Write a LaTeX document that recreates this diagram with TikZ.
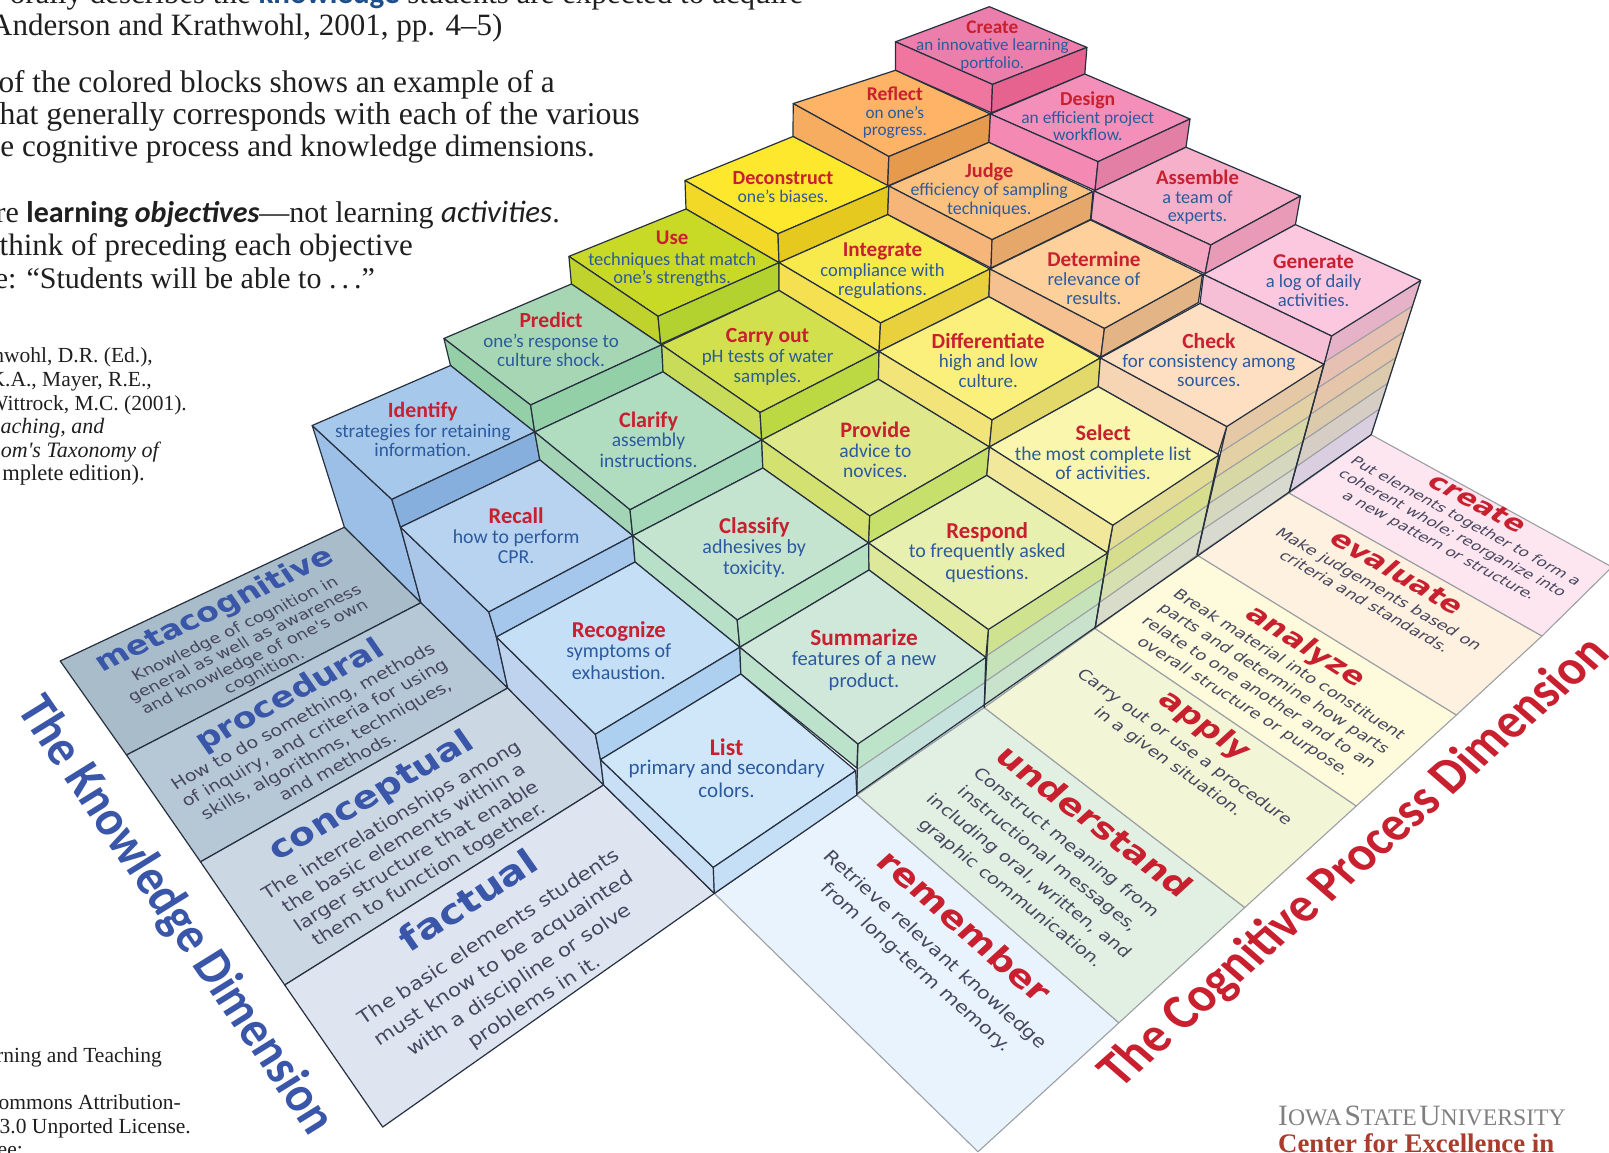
\documentclass[tikz,border=0pt]{standalone}
\usepackage{fontspec}
\usetikzlibrary{calc}
\setmainfont{Carlito}
\newfontfamily\ser{Liberation Serif}
\newfontfamily\dv{DejaVu Sans}
\newfontfamily\car{Carlito}
\definecolor{rd}{HTML}{C8202F}
\definecolor{blu}{HTML}{2C5A9E}
\definecolor{ttl}{HTML}{3A56A8}
\definecolor{bod}{HTML}{47475F}
\definecolor{ink}{HTML}{27303F}
\definecolor{grayline}{HTML}{9C9FA3}
\definecolor{kblue}{HTML}{1F4E8C}
\tikzset{edge/.style={draw=ink,line width=1.2pt,line join=round},
 floorR/.style={draw=grayline,line width=1.1pt,line join=round},
 strip/.style={draw=grayline,line width=1pt,line join=round},
 serline/.style={anchor=base east,inner sep=0pt,text=black!88}}
\newcommand{\face}[2]{\definecolor{fc}{HTML}{#1}\filldraw[edge,fill=fc] #2 -- cycle;}
\newcommand{\rface}[2]{\definecolor{fc}{HTML}{#1}\filldraw[floorR,fill=fc] #2 -- cycle;}
% one column of strips: colour list, n, B, floorB, R, floorR
\newcommand{\strips}[6]{%
 \foreach \t/\col in {#1}{
  \pgfmathsetmacro{\a}{\t/#2}\pgfmathsetmacro{\b}{(\t+1)/#2}
  \definecolor{fc}{HTML}{\col}
  \filldraw[strip,fill=fc] ($#3!\a!#4$)--($#5!\a!#6$)--($#5!\b!#6$)--($#3!\b!#4$)--cycle;}}
% block caption: x y1 y2 y3 size title l1 l2 (main-image units)
\newcommand{\bt}[8]{%
 \node[inner sep=0pt,text=rd,font={\fontsize{\fpeval{#5*1.135}}{10}\selectfont\bfseries}] at ({#1*1.0262},{(#2+1.5)*1.0262}) {\vphantom{Ay}#6};
 \node[inner sep=0pt,text=blu,font={\fontsize{#5}{10}\selectfont}] at ({#1*1.0262},{(#3+1.5)*1.0262}) {\vphantom{Ay}#7};
 \node[inner sep=0pt,text=blu,font={\fontsize{#5}{10}\selectfont}] at ({#1*1.0262},{(#4+1.5)*1.0262}) {\vphantom{Ay}#8};}
% skewed text: x y angle vx vy size lead style text
\newcommand{\sk}[9]{%
 \pgfmathsetmacro{\ca}{cos(#3)}\pgfmathsetmacro{\sa}{sin(#3)}%
 \node[transform shape,inner sep=0pt,align=center,shift={(#1,#2)},cm={\ca,\sa,#4,#5,(0,0)},font={\fontsize{#6}{#7}\selectfont #8}] at (0,0) {#9};}
\begin{document}
\begin{tikzpicture}[x=1pt,y=-1pt]
\useasboundingbox (0,0) rectangle (1609,1153);
\clip (0,0) rectangle (1609,1153);
\fill[white] (0,0) rectangle (1609,1153);
% ---------- left text
\node[serline,font={\fontsize{31}{32}\ser}] at (803.5,4) {orally describes the {\car\bfseries\color{kblue}knowledge} students are expected to acquire};
\node[serline,font={\fontsize{31}{32}\ser}] at (502.6,36) {Anderson and Krathwohl, 2001, pp. 4–5)};
\node[serline,font={\fontsize{31.3}{32}\ser}] at (555,92.5) {of the colored blocks shows an example of a};
\node[serline,font={\fontsize{31.8}{32}\ser}] at (640,125) {hat generally corresponds with each of the various};
\node[serline,font={\fontsize{31.2}{32}\ser}] at (595,157) {e cognitive process and knowledge dimensions.};
\node[serline,font={\fontsize{30}{32}\ser}] at (560,222.7) {re {\fontsize{30}{32}\car\bfseries learning {\itshape objectives}}—not learning {\car\fontsize{31}{32}\selectfont\itshape activities}.};
\node[serline,font={\fontsize{31}{32}\ser}] at (413,255) {think of preceding each objective};
\node[serline,font={\fontsize{30}{32}\ser}] at (375,288) {e: “Students will be able to .\,.\,.”};
\node[serline,font={\fontsize{21.5}{22}\ser}] at (153,362.6) {hwohl, D.R. (Ed.),};
\node[serline,font={\fontsize{21.5}{22}\ser}] at (152,386.6) {K.A., Mayer, R.E.,};
\node[serline,font={\fontsize{21.5}{22}\ser}] at (187,410) {Wittrock, M.C. (2001).};
\node[serline,font={\fontsize{22}{22}\ser\itshape}] at (104.6,433) {aching, and};
\node[serline,font={\fontsize{22}{22}\ser\itshape}] at (159,457) {om's Taxonomy of};
\node[serline,font={\fontsize{22.5}{22}\ser}] at (145,480) {mplete edition).};
\node[serline,font={\fontsize{21.5}{22}\ser}] at (162,1062.6) {rning and Teaching};
\node[serline,font={\fontsize{21.5}{22}\ser}] at (181,1109) {ommons Attribution-};
\node[serline,font={\fontsize{21.5}{22}\ser}] at (191,1133) {3.0 Unported License.};
\node[serline,font={\fontsize{21.5}{22}\ser}] at (23,1156) {ee:};
% ---------- floor, knowledge side
\face{A9BCC9}{(60.2,661)--(344.4,527.2)--(421,602.7)--(126.5,755)}
\face{B6C8D6}{(126.5,755)--(421,602.7)--(507.7,688)--(200.5,861.8)}
\face{CBD7E3}{(200.5,861.8)--(507.7,688)--(603.6,785)--(284.7,985)}
\face{DEE5F1}{(284.7,985)--(603.6,785)--(714.3,893.4)--(382.7,1127)}
% ---------- floor, cognitive side
\rface{E8F3FD}{(714.3,893.4)--(856.8,795)--(1118.9,1022.8)--(978,1151.8)}
\rface{E2F0E3}{(856.8,795)--(984.2,707.5)--(1244.8,907.5)--(1118.9,1022.8)}
\rface{F2F6D6}{(984.2,707.5)--(1095,628.4)--(1356.3,806)--(1244.8,907.5)}
\rface{FEFBDC}{(1095,628.4)--(1197,555)--(1456.4,715)--(1356.3,806)}
\rface{FEF1E0}{(1197,555)--(1289,493)--(1542,636)--(1456.4,715)}
\rface{FDE6F0}{(1289,493)--(1371.2,434.7)--(1612,567)--(1542,636)}
% ---------- right-hand strips
\strips{0/E5B2C8,1/E7C0B4,2/E5C6AA,3/DCCAAC,4/D6CDC4,5/D9CFE0}{6}{(1331.5,336)}{(1289,493)}{(1420.7,280.4)}{(1371.2,434.7)}
\strips{0/E5C8A5,1/E3D0A5,2/D8D8A5,3/D5D8BF,4/D8DAD0}{5}{(1226.7,426.6)}{(1197,555)}{(1324,364.4)}{(1289,493)}
\strips{0/E2DC94,1/D6DE8E,2/D5DFB0,3/D8DCC8}{4}{(1112.7,525.3)}{(1095,628.4)}{(1219,455)}{(1197,555)}
\strips{0/CFE28F,1/C5E2B8,2/C8E2CC}{3}{(988.3,629.5)}{(984.2,707.5)}{(1107.5,553)}{(1095,628.4)}
\strips{0/BDE3C8,1/C5E2DC}{2}{(857.8,744)}{(856.8,795)}{(985.8,657.4)}{(984.2,707.5)}
% verticals and outer edges
\draw[edge] (1331.5,336)--(1289,493);
\draw[edge] (1420.7,280.4)--(1371.2,434.7);
\draw[edge] (1226.7,426.6)--(1197,555);
\draw[edge] (1324,364.4)--(1289,493);
\draw[edge] (1112.7,525.3)--(1095,628.4);
\draw[edge] (1219,455)--(1197,555);
\draw[edge] (988.3,629.5)--(984.2,707.5);
\draw[edge] (1107.5,553)--(1095,628.4);
\draw[edge] (857.8,744)--(856.8,795);
\draw[edge] (985.8,657.4)--(984.2,707.5);
\draw[edge] (714.3,893.4)--(1371.2,434.7);
% ---------- staircase left faces
\face{9BBFE6}{(312.2,425.5)--(391.8,499.4)--(400.5,527.2)--(421,602.7)--(344.4,527.2)}
\face{AAC6E8}{(400.5,527.2)--(488.8,612)--(496.4,637)--(507.7,688)--(421,602.7)}
\face{BFD3EE}{(496.4,637)--(595.4,734.3)--(600.5,759.6)--(603.6,785)--(507.7,688)}
\face{C8DFF5}{(600.5,759.6)--(713.3,867.4)--(714.3,893.4)--(603.6,785)}
% ---------- blocks
\face{EC7EAB}{(989.4,6.7)--(1086.9,47.4)--(992.5,84.4)--(895.5,41.8)}
\face{F0759F}{(895.5,41.8)--(992.5,84.4)--(991.4,112.8)--(895.5,70.3)}
\face{E6638F}{(992.5,84.4)--(1086.9,47.4)--(1084.8,74)--(991.4,112.8)}
\face{FFB366}{(895.5,70.3)--(990.4,114)--(888.8,156.5)--(793.2,103.6)}
\face{F6AD5F}{(793.2,103.6)--(888.8,156.5)--(887.7,186)--(793,136.5)}
\face{E59A4D}{(888.8,156.5)--(990.4,114)--(988.9,142.4)--(887.7,186)}
\face{F48FBA}{(1084.8,74)--(1190,119)--(1098,161.7)--(990.4,114)}
\face{F48AB4}{(990.4,114)--(1098,161.7)--(1095,190.5)--(988.9,142.4)}
\face{E37FA4}{(1098,161.7)--(1190,119)--(1186,147.2)--(1095,190.5)}
\face{FDE82E}{(793,136.5)--(888.8,186)--(778,233.8)--(685,180.5)}
\face{F2D827}{(685,180.5)--(778,233.8)--(779,262.7)--(686,209)}
\face{E5C91F}{(778,233.8)--(888.8,186)--(887.7,214.6)--(779,262.7)}
\face{FDC17F}{(988.9,142.4)--(1093,191.6)--(992,239.7)--(888.8,186)}
\face{F6B679}{(888.8,186)--(992,239.7)--(991,268)--(887.7,214.6)}
\face{E6A86A}{(992,239.7)--(1093,191.6)--(1090.5,219.4)--(991,268)}
\face{F6B0CA}{(1186,147.2)--(1300.5,196)--(1210.7,245)--(1094,191)}
\face{F5A7C2}{(1094,191)--(1210.7,245)--(1205,273.8)--(1091,219.4)}
\face{E89AB6}{(1210.7,245)--(1300.5,196)--(1295.4,224.6)--(1205,273.8)}
\face{C9DA26}{(686,209)--(779,262.7)--(658,316.3)--(568.9,256.4)}
\face{C0D22C}{(568.9,256.4)--(658,316.3)--(660.7,344)--(571.4,284)}
\face{B3D22F}{(658,316.3)--(779,262.7)--(779,290.4)--(660.7,344)}
\face{F8EA4C}{(887.7,214.6)--(989.9,269)--(880.5,323)--(779,262.7)}
\face{F5E052}{(779,262.7)--(880.5,323)--(879,351.5)--(779,290.4)}
\face{E8D13C}{(880.5,323)--(989.9,269)--(988.9,296.7)--(879,351.5)}
\face{FDD09C}{(1090.5,220)--(1202.5,274.5)--(1104.4,328.5)--(989.9,269)}
\face{F5C190}{(989.9,269)--(1104.4,328.5)--(1100.8,357)--(988.9,296.7)}
\face{E3B586}{(1104.4,328.5)--(1202.5,274.5)--(1198.3,302.6)--(1100.8,357)}
\face{FBC8DF}{(1295.4,224.6)--(1420.7,280.4)--(1331.5,336)--(1203.5,274.5)}
\face{F6BFD5}{(1203.5,274.5)--(1331.5,336)--(1324,364.4)--(1200,303.4)}
\face{A6D6B3}{(571.4,284)--(661.7,344.8)--(530.6,405)--(443.9,338.5)}
\face{94CFA8}{(443.9,338.5)--(530.6,405)--(534.7,432)--(450.5,365.5)}
\face{93D0A8}{(530.6,405)--(661.7,344.8)--(663,371.8)--(534.7,432)}
\face{D2E04E}{(779,290.4)--(879,351.5)--(760,412.5)--(661.7,344.8)}
\face{C9DC5A}{(661.7,344.8)--(760,412.5)--(761.7,440)--(663,371.8)}
\face{BCD944}{(760,412.5)--(879,351.5)--(878.4,379.2)--(761.7,440)}
\face{FCF07C}{(988.9,296.7)--(1100.3,358)--(992,420)--(879,351.5)}
\face{F2E478}{(879,351.5)--(992,420)--(989.4,447)--(878.4,379.2)}
\face{E3D96A}{(992,420)--(1100.3,358)--(1098.2,386.6)--(989.4,447)}
\face{FEDFC2}{(1200,303.4)--(1324,364.4)--(1226.7,426.6)--(1100.3,358)}
\face{F6D5B5}{(1100.3,358)--(1226.7,426.6)--(1218,454.3)--(1098.2,386.6)}
\face{A6C8EA}{(450.5,365.5)--(534.7,432)--(391.8,499.4)--(312.2,425.5)}
\face{86AFDD}{(391.8,499.4)--(534.7,432)--(539.8,459.9)--(400.5,527.2)}
\face{B0DCC0}{(663,371.8)--(761.7,440)--(630,509.8)--(534.7,432)}
\face{A3D4B6}{(534.7,432)--(630,509.8)--(632.7,535.7)--(539.8,459.9)}
\face{A5D8B8}{(630,509.8)--(761.7,440)--(762.8,468)--(632.7,535.7)}
\face{DFE88A}{(878.4,379.2)--(989.4,447)--(869.7,516)--(761.7,440)}
\face{D3E170}{(761.7,440)--(869.7,516)--(868.6,543)--(762.8,468)}
\face{C7E06C}{(869.7,516)--(989.4,447)--(986.8,475.4)--(868.6,543)}
\face{FBF6AE}{(1098.2,386.6)--(1219,455)--(1112.7,525.3)--(989.4,447)}
\face{F1E89C}{(989.4,447)--(1112.7,525.3)--(1107.5,553)--(986.8,475.4)}
\face{B7D3F0}{(539.8,459.9)--(632.7,535.7)--(488.8,612)--(400.5,527.2)}
\face{A5C7EC}{(488.8,612)--(632.7,535.7)--(635,562)--(496.4,637)}
\face{C5E4D0}{(762.8,468)--(868.6,543)--(737.2,620)--(632.7,535.7)}
\face{B8DFC8}{(632.7,535.7)--(737.2,620)--(739.8,647.3)--(635,562)}
\face{B5E0C2}{(737.2,620)--(868.6,543)--(869,570)--(739.8,647.3)}
\face{E8F0B0}{(986.8,475.4)--(1107.5,553)--(988.3,629.5)--(868.6,543)}
\face{DDE89A}{(868.6,543)--(988.3,629.5)--(985.8,657.4)--(869,570)}
\face{C5E0F6}{(635,562)--(739.8,647.3)--(595.4,734.3)--(496.4,637)}
\face{AED0F0}{(595.4,734.3)--(739.8,647.3)--(740.8,674)--(600.5,759.6)}
\face{CFE8DA}{(869,570)--(985.8,657.4)--(857.8,744)--(739.8,647.3)}
\face{BCE2CC}{(739.8,647.3)--(857.8,744)--(856.8,768)--(740.8,674)}
\face{D0E7F9}{(740.8,674)--(855.7,770.7)--(713.3,867.4)--(600.5,759.6)}
\face{C5DFF7}{(713.3,867.4)--(855.7,770.7)--(856.8,795)--(714.3,893.4)}
% ---------- block captions
\bt{967}{26}{43}{61}{17}{Create}{an innovative learning}{portfolio.}
\bt{872}{91}{109}{127}{17.2}{Reflect}{on one’s}{progress.}
\bt{1060}{96}{114}{131}{17.4}{Design}{an efficient project}{workflow.}
\bt{763}{173}{191}{191}{17.7}{Deconstruct}{one’s biases.}{}
\bt{964}{166}{184}{203}{17.9}{Judge}{efficiency of sampling}{techniques.}
\bt{1167}{173}{192}{210}{18.2}{Assemble}{a team of}{experts.}
\bt{655}{232}{252}{270}{18.4}{Use}{techniques that match}{one’s strengths.}
\bt{860}{244}{263}{282}{18.6}{Integrate}{compliance with}{regulations.}
\bt{1066}{253}{272}{290}{18.6}{Determine}{relevance of}{results.}
\bt{1280}{255}{274}{292}{18.6}{Generate}{a log of daily}{activities.}
\bt{537}{312}{332}{351}{19}{Predict}{one’s response to}{culture shock.}
\bt{748}{327}{347}{366}{19}{Carry out}{pH tests of water}{samples.}
\bt{963}{332}{352}{371}{19}{Differentiate}{high and low}{culture.}
\bt{1178}{332}{352}{371}{19}{Check}{for consistency among}{sources.}
\bt{412}{400}{420}{438}{19.2}{Identify}{strategies for retaining}{information.}
\bt{632}{409}{429}{449}{19.5}{Clarify}{assembly}{instructions.}
\bt{853}{419}{439}{459}{19.5}{Provide}{advice to}{novices.}
\bt{1075}{422}{442}{461}{19.5}{Select}{the most complete list}{of activities.}
\bt{503}{503}{523}{543}{19.8}{Recall}{how to perform}{CPR.}
\bt{735}{512}{533}{553}{20}{Classify}{adhesives by}{toxicity.}
\bt{962}{517}{537}{558}{20}{Respond}{to frequently asked}{questions.}
\bt{603}{614}{634}{655}{20}{Recognize}{symptoms of}{exhaustion.}
\bt{842}{621}{642}{663}{20.5}{Summarize}{features of a new}{product.}
\bt{708}{728}{748}{770}{21}{List}{primary and secondary}{colors.}
% ---------- knowledge panel text
\sk{215}{611}{25.5}{-.50}{.72}{32}{32}{\dv\bfseries\color{ttl}}{metacognitive}
\sk{250}{651}{25.5}{-.50}{.72}{17.4}{19.5}{\dv\color{bod}}{Knowledge of cognition in\\general as well as awareness\\and knowledge of one's own\\cognition.}
\sk{290}{696}{28}{-.50}{.72}{34}{34}{\dv\bfseries\color{ttl}}{procedural}
\sk{320}{741}{28}{-.50}{.72}{18.8}{23.2}{\dv\color{bod}}{How to do something, methods\\of inquiry, and criteria for using\\skills, algorithms, techniques,\\and methods.}
\sk{372}{797}{30}{-.50}{.72}{37}{37}{\dv\bfseries\color{ttl}}{conceptual}
\sk{411}{848}{30.5}{-.50}{.72}{20.2}{25}{\dv\color{bod}}{The interrelationships among\\the basic elements within a\\larger structure that enable\\them to function together.}
\sk{468}{900}{33}{-.50}{.72}{40}{40}{\dv\bfseries\color{ttl}}{factual}
\sk{512}{970}{33}{-.50}{.72}{21.3}{30}{\dv\color{bod}}{The basic elements students\\must know to be acquainted\\with a discipline or solve\\problems in it.}
% ---------- cognitive panel text
\sk{965}{926}{-41}{.65}{.595}{37}{37}{\dv\bfseries\color{rd}}{remember}
\sk{925}{959}{-41.5}{.65}{.595}{20.2}{29.5}{\dv\color{bod}}{Retrieve relevant knowledge\\from long-term memory.}
\sk{1095}{821}{-37}{.65}{.595}{36}{36}{\dv\bfseries\color{rd}}{understand}
\sk{1038}{868}{-38.5}{.65}{.595}{18.9}{28.4}{\dv\color{bod}}{Construct meaning from\\instructional messages,\\including oral, written, and\\graphic communication.}
\sk{1204}{726}{-35.5}{.65}{.595}{33}{33}{\dv\bfseries\color{rd}}{apply}
\sk{1176}{755}{-35.5}{.65}{.595}{17.9}{25}{\dv\color{bod}}{Carry out or use a procedure\\in a given situation.}
\sk{1305}{647}{-32.5}{.65}{.595}{31}{31}{\dv\bfseries\color{rd}}{analyze}
\sk{1266}{686}{-32.5}{.65}{.595}{17.3}{23.3}{\dv\color{bod}}{Break material into constituent\\parts and determine how parts\\relate to one another and to an\\overall structure or purpose.}
\sk{1398}{572}{-30}{.65}{.595}{30}{30}{\dv\bfseries\color{rd}}{evaluate}
\sk{1372}{595}{-30}{.65}{.595}{16.9}{21.6}{\dv\color{bod}}{Make judgements based on\\criteria and standards.}
\sk{1478}{503}{-28.5}{.65}{.595}{29}{29}{\dv\bfseries\color{rd}}{create}
\sk{1452}{534}{-28.5}{.65}{.595}{16}{20.5}{\dv\color{bod}}{Put elements together to form a\\coherent whole; reorganize into\\a new pattern or structure.}
% ---------- dimension titles
\sk{175}{916}{-55.5}{.95}{.59}{47}{47}{\car\bfseries\color{ttl}}{The Knowledge Dimension}
\sk{1355}{863}{41.5}{-.84}{.73}{48}{48}{\car\bfseries\color{rd}}{The Cognitive Process Dimension}
% ---------- logo
\node[anchor=base west,inner sep=0pt,text=black!50,font={\ser}] at (1278,1125.7) {{\fontsize{29.5}{30}\selectfont I}{\fontsize{23.7}{30}\selectfont OWA} {\fontsize{29.5}{30}\selectfont S}{\fontsize{23.7}{30}\selectfont TATE} {\fontsize{29.5}{30}\selectfont U}{\fontsize{23.7}{30}\selectfont NIVERSITY}};
\node[anchor=base west,inner sep=0pt,text={rgb,255:red,170;green,60;blue,45},font={\fontsize{26.8}{26}\ser\bfseries}] at (1278,1152) {Center for Excellence in};
\end{tikzpicture}
\end{document}
